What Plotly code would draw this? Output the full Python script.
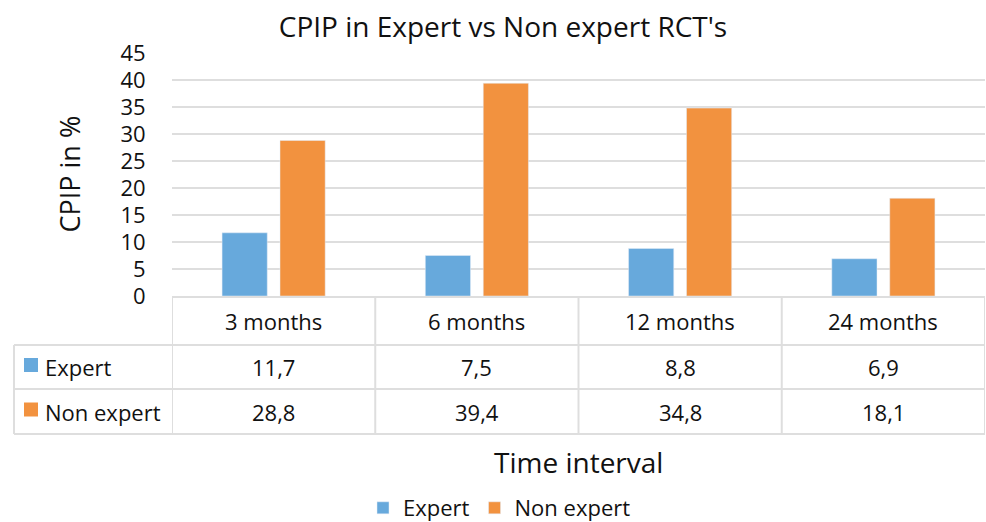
import plotly.graph_objects as go

categories = ["3 months", "6 months", "12 months", "24 months"]
expert = [11.7, 7.5, 8.8, 6.9]
non_expert = [28.8, 39.4, 34.8, 18.1]
series_names = ["Expert", "Non expert"]
y_ticks = [0, 5, 10, 15, 20, 25, 30, 35, 40, 45]

BLUE = "#67A9DC"
ORANGE = "#F2923F"
GRID = "#DEDEDE"
TXT = "#111111"
FONT = "Open Sans"

W, H = 986, 522
L, R, T, B = 172, 1, 53, 226
PW = W - L - R
PH = H - T - B


def px_x(X):
    return (X - L) / PW


def px_y(Y):
    return (H - B - Y) / PH


def fmt(v):
    return f"{v:.1f}".replace(".", ",")


fig = go.Figure()
fig.add_trace(go.Bar(x=categories, y=expert, name=series_names[0], marker_color=BLUE))
fig.add_trace(go.Bar(x=categories, y=non_expert, name=series_names[1], marker_color=ORANGE))

shapes = []
annotations = []

# table geometry (pixels)
row_tops = [297, 345, 389, 434]
left_x = 14
line_style = dict(color=GRID, width=2)

shapes.append(dict(type="line", xref="paper", yref="paper", x0=px_x(L), x1=px_x(985),
                   y0=px_y(row_tops[0]), y1=px_y(row_tops[0]), line=line_style))
for Y in row_tops[1:]:
    shapes.append(dict(type="line", xref="paper", yref="paper", x0=px_x(left_x), x1=px_x(985),
                       y0=px_y(Y), y1=px_y(Y), line=line_style))
for i in range(len(categories) + 1):
    shapes.append(dict(type="line", xref="x", yref="paper", x0=i - 0.5, x1=i - 0.5,
                       y0=px_y(row_tops[0]), y1=px_y(row_tops[-1]), line=line_style))
shapes.append(dict(type="line", xref="paper", yref="paper", x0=px_x(left_x), x1=px_x(left_x),
                   y0=px_y(row_tops[1]), y1=px_y(row_tops[-1]), line=line_style))

for i, c in enumerate(categories):
    annotations.append(dict(x=i, y=px_y((row_tops[0] + row_tops[1]) / 2), xref="x", yref="paper",
                            text=c, showarrow=False, font=dict(size=22, color=TXT, family=FONT),
                            xanchor="center", yanchor="middle"))

for r, (name, vals, col) in enumerate([(series_names[0], expert, BLUE), (series_names[1], non_expert, ORANGE)]):
    yc = (row_tops[r + 1] + row_tops[r + 2]) / 2
    for i, v in enumerate(vals):
        annotations.append(dict(x=i, y=px_y(yc), xref="x", yref="paper", text=fmt(v), showarrow=False,
                                font=dict(size=22, color=TXT, family=FONT),
                                xanchor="center", yanchor="middle"))
    shapes.append(dict(type="rect", xref="paper", yref="paper", x0=px_x(24), x1=px_x(38),
                       y0=px_y(yc - 9), y1=px_y(yc + 5), fillcolor=col, line=dict(width=0)))
    annotations.append(dict(x=px_x(43), y=px_y(yc), xref="paper", yref="paper", text=name, showarrow=False,
                            font=dict(size=22, color=TXT, family=FONT),
                            xanchor="left", yanchor="middle"))

# axis titles
annotations.append(dict(x=0.5, y=px_y(462), xref="paper", yref="paper", text="Time interval", showarrow=False,
                        font=dict(size=28, color=TXT, family=FONT), xanchor="center", yanchor="middle"))
annotations.append(dict(x=px_x(69), y=0.5, xref="paper", yref="paper", text="CPIP in %", showarrow=False,
                        textangle=-90, font=dict(size=27, color=TXT, family=FONT),
                        xanchor="center", yanchor="middle"))

fig.update_layout(
    width=W, height=H,
    margin=dict(l=L, r=R, t=T, b=B, autoexpand=False),
    paper_bgcolor="white", plot_bgcolor="white",
    font=dict(family=FONT, color=TXT),
    title=dict(text="CPIP in Expert vs Non expert RCT's", x=503 / W, xref="container", xanchor="center",
               y=1 - 27 / H, yref="container", yanchor="middle", font=dict(size=28, color=TXT, family=FONT)),
    barmode="group", bargap=0.43, bargroupgap=0.22,
    showlegend=True,
    legend=dict(orientation="h", x=363 / W, xref="container", y=1 - 508 / H, yref="container",
                xanchor="left", yanchor="middle", font=dict(size=22, family=FONT, color=TXT),
                itemwidth=30, traceorder="normal", bgcolor="rgba(0,0,0,0)"),
    shapes=shapes, annotations=annotations,
)
fig.update_xaxes(range=[-0.5, 3.5], showticklabels=False, showgrid=False, zeroline=False, showline=False,
                 ticks="")
fig.update_yaxes(range=[0, 45], tickvals=y_ticks, showgrid=True, gridcolor=GRID, gridwidth=2, zeroline=False,
                 showline=False, ticks="outside", ticklen=21, tickcolor="rgba(0,0,0,0)",
                 tickfont=dict(size=22, family=FONT, color=TXT))

fig.write_html("out.html", config={"displayModeBar": False},
               post_script="document.body.style.margin='0';document.body.style.padding='0';")
